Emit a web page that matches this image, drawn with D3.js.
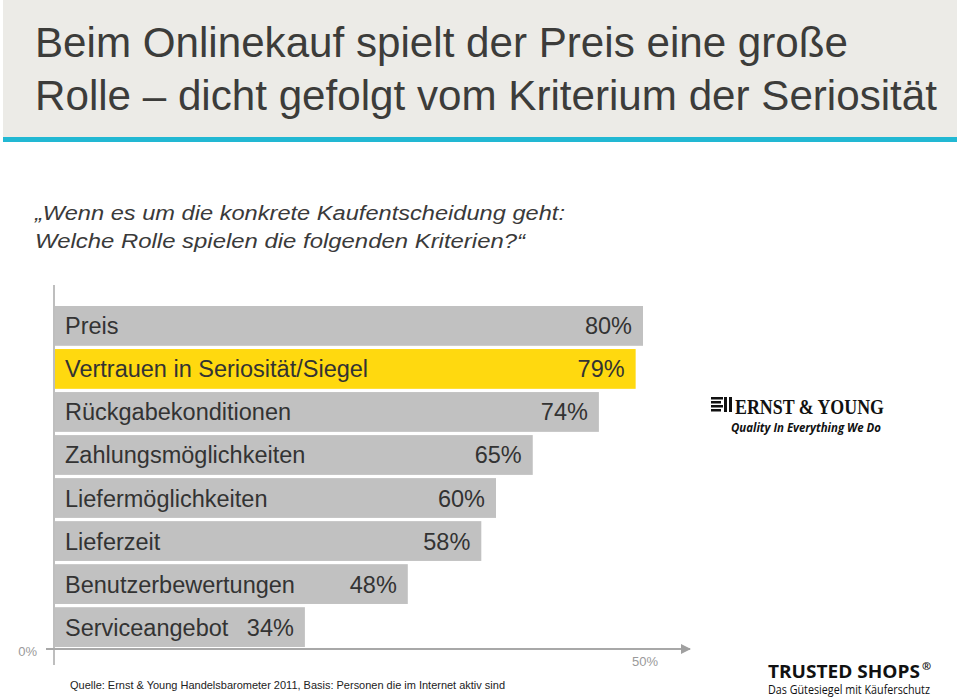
<!DOCTYPE html>
<html><head><meta charset="utf-8">
<script src="https://cdn.jsdelivr.net/npm/d3@7"></script>
<style>
html,body{margin:0;padding:0;background:#fff;}
svg{display:block;font-family:"Liberation Sans",Arial,sans-serif;}
</style></head>
<body>
<svg id="chart" width="960" height="698"></svg>
<script>
const categories = ["Preis","Vertrauen in Seriosität/Siegel","Rückgabekonditionen","Zahlungsmöglichkeiten","Liefermöglichkeiten","Lieferzeit","Benutzerbewertungen","Serviceangebot"];
const values = [80,79,74,65,60,58,48,34];
const highlight = ["Vertrauen in Seriosität/Siegel"];
const axisTickLabels = ["0%","50%"];
const titleLines = ["Beim Onlinekauf spielt der Preis eine große","Rolle – dicht gefolgt vom Kriterium der Seriosität"];
const subtitleLines = ["„Wenn es um die konkrete Kaufentscheidung geht:","Welche Rolle spielen die folgenden Kriterien?“"];
const sourceText = "Quelle: Ernst & Young Handelsbarometer 2011, Basis: Personen die im Internet aktiv sind";

const svg = d3.select("#chart");

// header band
svg.append("rect").attr("x",3).attr("y",0).attr("width",954).attr("height",137).attr("fill","#ecebe7");
svg.append("rect").attr("x",3).attr("y",137).attr("width",954).attr("height",5).attr("fill","#22b8d3");
const titleLen = [813, 902];
svg.append("g").selectAll("text").data(titleLines).join("text")
  .attr("x",35).attr("y",(d,i)=>57+i*53)
  .attr("font-size",43).attr("fill","#3c3c3a")
  .attr("textLength",(d,i)=>titleLen[i]).attr("lengthAdjust","spacingAndGlyphs").text(d=>d);

const subLen = [530, 490];
svg.append("g").selectAll("text").data(subtitleLines).join("text")
  .attr("x",35).attr("y",(d,i)=>220+i*28)
  .attr("font-size",20).attr("font-style","italic").attr("fill","#3a3a3a")
  .attr("textLength",(d,i)=>subLen[i]).attr("lengthAdjust","spacingAndGlyphs").text(d=>d);

// scales
const x = d3.scaleLinear().domain([0,80]).range([55,643]);
const y = d3.scaleBand().domain(categories).range([306,647]).paddingInner(0.075).paddingOuter(0);

// bars
const g = svg.append("g");
const rows = g.selectAll("g.row").data(categories.map((c,i)=>({c,v:values[i]}))).join("g").attr("class","row");
rows.append("rect")
  .attr("x",x(0)).attr("y",d=>y(d.c))
  .attr("width",d=>x(d.v)-x(0)).attr("height",y.bandwidth())
  .attr("fill",d=>highlight.includes(d.c)?"#ffd90f":"#c1c1c1");
rows.append("text")
  .attr("x",x(0)+10).attr("y",d=>y(d.c)+y.bandwidth()/2+8.5)
  .attr("font-size",23.5).attr("fill","#333").text(d=>d.c);
rows.append("text")
  .attr("x",d=>x(d.v)-11).attr("y",d=>y(d.c)+y.bandwidth()/2+8.5)
  .attr("text-anchor","end")
  .attr("font-size",23.5).attr("fill","#333").text(d=>d.v+"%");

// axes
svg.append("defs").append("marker").attr("id","arr").attr("viewBox","0 0 10 10")
  .attr("refX",9).attr("refY",5).attr("markerWidth",5).attr("markerHeight",5).attr("orient","auto")
  .append("path").attr("d","M0,0L10,5L0,10z").attr("fill","#a0a0a0");
svg.append("line").attr("x1",x(0)-1).attr("x2",x(0)-1).attr("y1",285).attr("y2",665)
  .attr("stroke","#a8a8a8").attr("stroke-width",1.5);
svg.append("line").attr("x1",46).attr("x2",690).attr("y1",649).attr("y2",649)
  .attr("stroke","#a8a8a8").attr("stroke-width",2).attr("marker-end","url(#arr)");
svg.append("text").attr("x",37).attr("y",656).attr("text-anchor","end")
  .attr("font-size",13).attr("fill","#9a9a9a").text(axisTickLabels[0]);
svg.append("text").attr("x",645).attr("y",666).attr("text-anchor","middle")
  .attr("font-size",13).attr("fill","#9a9a9a").text(axisTickLabels[1]);

// source
svg.append("text").attr("x",70).attr("y",689).attr("font-size",11.5).attr("fill","#222")
  .attr("textLength",435).attr("lengthAdjust","spacingAndGlyphs").text(sourceText);

// Ernst & Young logo
const ey = svg.append("g");
[0,1,2,3].forEach(i=>{
  ey.append("rect").attr("x",711).attr("y",397+i*4).attr("width",12-(i%2)*2).attr("height",2.5).attr("fill","#111");
});
ey.append("rect").attr("x",724).attr("y",397).attr("width",3).attr("height",15).attr("fill","#111");
ey.append("rect").attr("x",729).attr("y",397).attr("width",3).attr("height",15).attr("fill","#111");
ey.append("text").attr("x",735).attr("y",414).attr("font-size",20).attr("font-weight","bold")
  .attr("font-family","'Liberation Serif',serif")
  .attr("fill","#111").attr("textLength",149).attr("lengthAdjust","spacingAndGlyphs")
  .text("ERNST & YOUNG");
ey.append("text").attr("x",731).attr("y",432).attr("font-size",13).attr("font-style","italic").attr("font-weight","bold")
  .attr("font-family","'Open Sans',sans-serif").attr("fill","#111").attr("textLength",150).attr("lengthAdjust","spacingAndGlyphs")
  .text("Quality In Everything We Do");

// Trusted Shops logo
const ts = svg.append("g");
ts.append("text").attr("x",768).attr("y",678).attr("font-size",18.5).attr("font-weight","bold")
  .attr("font-family","'Open Sans',sans-serif").attr("fill","#111").attr("textLength",152).attr("lengthAdjust","spacingAndGlyphs")
  .text("TRUSTED SHOPS");
ts.append("text").attr("x",922).attr("y",670).attr("font-size",11).attr("font-weight","bold")
  .attr("font-family","'Open Sans',sans-serif").attr("fill","#111").text("®");
ts.append("text").attr("x",768).attr("y",694).attr("font-size",12.5)
  .attr("font-family","'Open Sans',sans-serif").attr("fill","#111").attr("textLength",162).attr("lengthAdjust","spacingAndGlyphs")
  .text("Das Gütesiegel mit Käuferschutz");
</script>
</body></html>
